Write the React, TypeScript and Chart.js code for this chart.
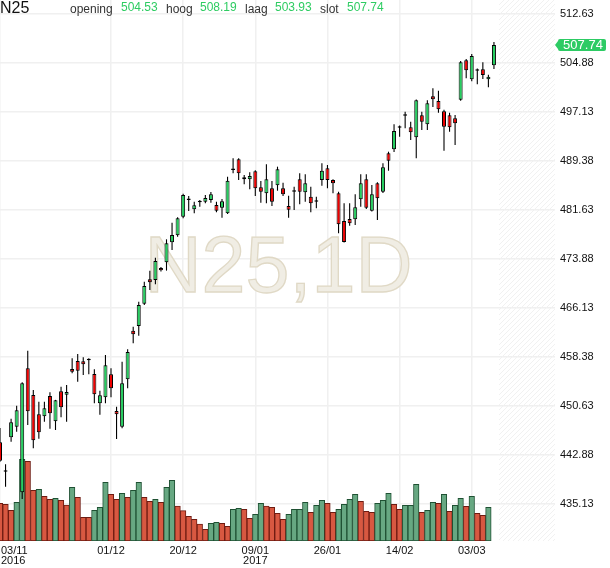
import React, { useEffect, useRef } from 'react';
import { Chart, registerables } from 'chart.js';

Chart.register(...registerables);

// ---------- data ----------
const symbol = 'N25';
const period = '1D';

const opens = [
  444.88, 440.24, 445.68, 447.35, 436.98, 456.59, 452.37, 449.31, 449.0, 452.21,
  448.21, 452.95, 452.41, 456.48, 457.74, 457.69, 457.86, 455.69, 451.05, 452.0,
  455.64, 449.84, 447.35, 454.85, 462.54, 463.28, 466.81, 470.67, 470.56, 472.45,
  473.35, 476.52, 477.62, 480.57, 483.21, 481.74, 482.84, 482.94, 483.21, 482.42,
  481.99, 481.1, 487.95, 489.64, 486.48, 486.48, 487.75, 485.22, 484.27, 485.06,
  485.53, 485.06, 482.26, 484.52, 486.48, 484.43, 483.73, 482.94, 486.37, 488.22,
  486.37, 484.27, 479.89, 480.2, 480.15, 483.32, 486.48, 481.52, 485.85, 484.52,
  490.59, 491.23, 494.64, 496.54, 494.71, 493.12, 496.6, 495.18, 499.61, 498.87,
  497.24, 496.6, 496.13, 499.07, 505.3, 502.3, 503.66, 503.88, 502.3, 504.53,
];
const highs = [
  447.15, 441.41, 448.62, 450.67, 454.4, 459.37, 453.16, 451.31, 451.31, 452.79,
  451.6, 453.68, 453.95, 458.17, 458.85, 458.33, 458.17, 456.43, 453.05, 458.69,
  456.59, 450.52, 457.63, 459.6, 463.17, 467.12, 470.29, 472.03, 474.08, 472.6,
  476.99, 479.62, 480.5, 484.2, 483.84, 482.94, 483.21, 484.0, 484.47, 482.94,
  483.37, 486.89, 489.8, 489.8, 487.16, 487.59, 487.9, 486.21, 488.85, 486.21,
  488.48, 485.94, 483.89, 485.31, 487.43, 487.27, 485.31, 483.73, 489.01, 488.74,
  486.5, 484.5, 482.7, 482.7, 484.11, 487.27, 487.27, 485.58, 486.0, 489.01,
  490.85, 495.18, 495.0, 497.17, 495.59, 499.1, 497.17, 499.0, 500.87, 500.49,
  497.5, 497.0, 496.66, 505.2, 505.5, 506.3, 504.0, 504.99, 503.0, 508.19,
];
const lows = [
  441.8, 437.86, 444.98, 446.56, 435.92, 447.62, 443.94, 445.45, 448.14, 447.04,
  446.83, 448.84, 448.14, 455.8, 454.47, 455.53, 455.64, 451.05, 449.25, 451.05,
  452.0, 445.41, 447.1, 453.43, 460.54, 461.75, 466.6, 468.97, 469.87, 471.9,
  472.04, 475.3, 477.4, 480.31, 481.47, 481.1, 482.15, 482.7, 482.78, 481.26,
  480.41, 481.0, 487.43, 486.37, 485.69, 484.9, 483.84, 482.78, 482.7, 482.26,
  484.68, 483.84, 480.41, 481.63, 482.53, 482.94, 481.26, 481.9, 485.47, 485.06,
  484.27, 477.94, 476.5, 479.14, 479.25, 482.15, 481.8, 481.4, 480.04, 484.3,
  487.84, 490.8, 493.22, 494.55, 492.7, 489.8, 494.28, 494.28, 497.92, 497.02,
  491.0, 494.0, 491.9, 498.9, 502.46, 502.0, 501.51, 502.35, 501.04, 503.93,
];
const closes = [
  441.98, 440.24, 448.05, 449.95, 454.22, 449.79, 445.2, 446.47, 450.26, 449.47,
  451.53, 450.42, 452.84, 456.05, 456.21, 457.22, 457.86, 452.47, 452.32, 457.06,
  453.43, 449.31, 454.22, 459.17, 461.97, 466.6, 469.61, 470.19, 473.56, 472.09,
  476.36, 477.67, 480.31, 484.0, 483.21, 482.37, 482.84, 483.52, 484.11, 481.52,
  483.0, 486.26, 487.95, 487.43, 486.8, 487.0, 485.06, 484.52, 486.48, 482.94,
  488.06, 484.11, 481.68, 484.52, 484.52, 485.85, 482.7, 482.94, 487.84, 486.37,
  485.85, 479.36, 476.57, 479.52, 482.05, 485.85, 481.99, 484.11, 483.48, 488.38,
  489.43, 494.12, 494.64, 496.54, 493.92, 498.98, 495.59, 498.5, 499.13, 497.55,
  494.8, 494.71, 495.34, 504.99, 503.72, 505.98, 503.66, 502.98, 502.71, 507.74,
];
// volume (thousands); the last session has no volume bar
const volumes = [
  377, 367, 307, 387, 817, 797, 507, 517, 447, 417,
  427, 407, 360, 537, 437, 237, 237, 307, 337, 587,
  467, 417, 477, 437, 507, 587, 437, 397, 417, 387,
  537, 607, 350, 303, 247, 217, 170, 117, 177, 187,
  177, 147, 317, 327, 317, 227, 267, 377, 350, 337,
  277, 217, 267, 317, 317, 387, 287, 357, 407, 377,
  287, 317, 367, 417, 467, 397, 297, 287, 377, 407,
  477, 367, 317, 357, 357, 567, 287, 307, 387, 377,
  467, 297, 357, 427, 347, 447, 277, 257, 337, null,
];
const volumeUp = [
  0, 0, 0, 1, 1, 0, 0, 1, 0, 0,
  1, 0, 0, 1, 0, 0, 0, 1, 1, 1,
  0, 0, 1, 0, 1, 1, 0, 0, 1, 0,
  1, 1, 0, 0, 0, 0, 0, 0, 1, 1,
  0, 0, 1, 1, 0, 0, 1, 1, 0, 0,
  0, 0, 1, 1, 1, 1, 0, 1, 1, 0,
  0, 1, 1, 1, 1, 0, 0, 0, 1, 1,
  1, 0, 0, 1, 1, 1, 0, 1, 1, 0,
  1, 0, 1, 1, 0, 1, 0, 0, 1, 0,
];

const xTickIndex = [0, 20, 33, 46, 59, 72, 85];
const xTickLabels = ['03/11', '01/12', '20/12', '09/01', '26/01', '14/02', '03/03'];
const xTickYears = ['2016', '', '', '2017', '', '', ''];
const yTicks = [512.63, 504.88, 497.13, 489.38, 481.63, 473.88, 466.13, 458.38, 450.63, 442.88, 435.13];

const quoteLabels = ['opening', 'hoog', 'laag', 'slot'];
const quoteValues = ['504.53', '508.19', '503.93', '507.74'];

// ---------- style ----------
const FONT = "'Liberation Sans', Arial, Helvetica, sans-serif";
const UP = '#25cf60';
const DOWN = '#f00000';
const TXT_GREEN = '#2ecc62';
const VOL_UP = '#67a882';
const VOL_UP_B = '#1f5133';
const VOL_DN = '#d85841';
const VOL_DN_B = '#6e1b11';
const GRID = '#f0f0f0';

const decorPlugin = {
  id: 'decor',
  beforeDatasetsDraw(chart: any) {
    const { ctx, chartArea: a, scales } = chart;
    const xs = scales.x;
    const h = a.bottom - a.top;
    // hatched future area
    const hx = xs.getPixelForValue(closes.length - 0.1);
    ctx.save();
    ctx.beginPath();
    ctx.rect(hx, a.top, a.right - hx, h);
    ctx.clip();
    ctx.strokeStyle = '#f1f1f1';
    ctx.lineWidth = 1;
    ctx.beginPath();
    for (let k = hx - h; k < a.right + 5; k += 5) {
      ctx.moveTo(k, a.bottom);
      ctx.lineTo(k + h, a.top);
    }
    ctx.stroke();
    ctx.restore();
    // watermark
    ctx.save();
    ctx.font = `79px ${FONT}`;
    ctx.textAlign = 'center';
    ctx.textBaseline = 'alphabetic';
    const wx = (a.left + a.right) / 2 + 1;
    const wy = a.top + h * 0.54;
    ctx.fillStyle = '#f0ede4';
    ctx.fillText(`${symbol},${period}`, wx, wy);
    ctx.strokeStyle = '#e0d9c6';
    ctx.lineWidth = 1.3;
    ctx.strokeText(`${symbol},${period}`, wx, wy);
    ctx.restore();
  },
  afterDraw(chart: any) {
    const { ctx, chartArea: a, scales } = chart;
    const xs = scales.x;
    const ys = scales.y;
    ctx.save();
    // header
    ctx.textAlign = 'left';
    ctx.textBaseline = 'alphabetic';
    ctx.fillStyle = '#111';
    ctx.font = `16px ${FONT}`;
    ctx.fillText(symbol, 0, 13);
    const lx = [70, 166, 245, 320];
    const vx = [121, 200, 275, 347];
    quoteLabels.forEach((t, i) => {
      ctx.font = `12px ${FONT}`;
      ctx.fillStyle = '#333';
      ctx.fillText(t, lx[i], 13);
      ctx.fillStyle = TXT_GREEN;
      ctx.fillText(quoteValues[i], vx[i], 11);
    });
    // x tick labels
    ctx.font = `11px ${FONT}`;
    ctx.fillStyle = '#111';
    ctx.textBaseline = 'top';
    ctx.textAlign = 'center';
    xTickIndex.forEach((idx, i) => {
      const px = xs.getPixelForValue(idx);
      const w = ctx.measureText(xTickLabels[i]).width;
      const cx = Math.max(px, a.left + 1 + w / 2);
      ctx.fillText(xTickLabels[i], cx, a.bottom + 4);
      if (xTickYears[i]) {
        const w2 = ctx.measureText(xTickYears[i]).width;
        const cx2 = Math.max(px, a.left + 1 + w2 / 2);
        ctx.fillText(xTickYears[i], cx2, a.bottom + 14);
      }
    });
    // last price tag
    const last = closes[closes.length - 1];
    const py = ys.getPixelForValue(last);
    const x0 = a.right + 3;
    const x1 = a.right + 51;
    const r = 2;
    ctx.fillStyle = '#2dcb64';
    ctx.beginPath();
    ctx.moveTo(a.right, py);
    ctx.lineTo(x0, py - 4);
    ctx.lineTo(x0, py - 6 + r);
    ctx.quadraticCurveTo(x0, py - 6, x0 + r, py - 6);
    ctx.lineTo(x1 - r, py - 6);
    ctx.quadraticCurveTo(x1, py - 6, x1, py - 6 + r);
    ctx.lineTo(x1, py + 6 - r);
    ctx.quadraticCurveTo(x1, py + 6, x1 - r, py + 6);
    ctx.lineTo(x0 + r, py + 6);
    ctx.quadraticCurveTo(x0, py + 6, x0, py + 6 - r);
    ctx.lineTo(x0, py + 4);
    ctx.closePath();
    ctx.fill();
    ctx.fillStyle = '#fff';
    ctx.font = `13px ${FONT}`;
    ctx.textAlign = 'center';
    ctx.textBaseline = 'middle';
    ctx.fillText(last.toFixed(2), (x0 + x1) / 2 + 1, py + 0.5);
    ctx.restore();
  },
};

export default function App() {
  const ref = useRef<HTMLCanvasElement | null>(null);

  useEffect(() => {
    document.body.style.margin = '0';
    const canvas = ref.current;
    if (!canvas) return;

    const bodyData = opens.map((o, i) => ({ x: i, y: [o, closes[i]] }));
    const wickData = lows.map((l, i) => ({ x: i, y: [l, highs[i]] }));
    const volData: any[] = [];
    volumes.forEach((v, i) => {
      if (v != null) volData.push({ x: i, y: v });
    });

    const chart = new Chart(canvas, {
      type: 'bar',
      data: {
        datasets: [
          {
            label: 'body',
            data: bodyData as any,
            yAxisID: 'y',
            order: 1,
            grouped: false,
            maxBarThickness: 4.2,
            minBarLength: 1.5,
            borderWidth: 1,
            borderColor: '#000',
            borderSkipped: false,
            backgroundColor: (c: any) => {
              const i = c.raw ? c.raw.x : c.dataIndex;
              if (i == null || opens[i] == null) return UP;
              if (Math.abs(closes[i] - opens[i]) < 0.3) return '#000';
              return closes[i] >= opens[i] ? UP : DOWN;
            },
          } as any,
          {
            label: 'wick',
            data: wickData as any,
            yAxisID: 'y',
            order: 2,
            grouped: false,
            maxBarThickness: 1.1,
            borderWidth: 0,
            backgroundColor: '#000',
          } as any,
          {
            label: 'volume',
            data: volData,
            yAxisID: 'yv',
            order: 3,
            grouped: false,
            categoryPercentage: 1,
            barPercentage: 1,
            borderWidth: 1,
            borderSkipped: false,
            backgroundColor: (c: any) => {
              const i = c.raw ? c.raw.x : c.dataIndex;
              return volumeUp[i] ? VOL_UP : VOL_DN;
            },
            borderColor: (c: any) => {
              const i = c.raw ? c.raw.x : c.dataIndex;
              return volumeUp[i] ? VOL_UP_B : VOL_DN_B;
            },
          } as any,
        ],
      },
      options: {
        animation: false,
        responsive: false,
        events: [],
        layout: { padding: 0 },
        plugins: {
          legend: { display: false },
          tooltip: { enabled: false },
        },
        scales: {
          x: {
            type: 'linear',
            min: 0,
            max: 100,
            offset: false,
            grid: { color: GRID, lineWidth: 1.5, drawTicks: false, offset: false },
            border: { display: false },
            ticks: { display: false },
            afterBuildTicks: (s: any) => {
              s.ticks = xTickIndex.map((v) => ({ value: v }));
            },
            afterFit: (s: any) => {
              s.height = 27;
              s.paddingLeft = 0;
              s.paddingRight = 0;
            },
          },
          y: {
            type: 'linear',
            position: 'right',
            min: 429.28,
            max: 514.84,
            grid: { color: GRID, lineWidth: 1.5, drawTicks: false },
            border: { display: false },
            ticks: {
              padding: 5,
              color: '#111',
              font: { family: FONT, size: 11 },
              callback: (v: any) => Number(v).toFixed(2),
            },
            afterBuildTicks: (s: any) => {
              s.ticks = yTicks.map((v) => ({ value: v }));
            },
            afterFit: (s: any) => {
              s.width = 55;
              s.paddingTop = 0;
              s.paddingBottom = 0;
            },
          },
          yv: {
            type: 'linear',
            display: false,
            min: 0,
            max: 5410,
          },
        } as any,
      },
      plugins: [decorPlugin],
    });

    return () => {
      chart.destroy();
    };
  }, []);

  return (
    <div style={{ position: 'fixed', left: 0, top: 0, width: 610, height: 568, background: '#fff' }}>
      <canvas ref={ref} width={610} height={568} style={{ display: 'block', width: 610, height: 568 }} />
    </div>
  );
}
